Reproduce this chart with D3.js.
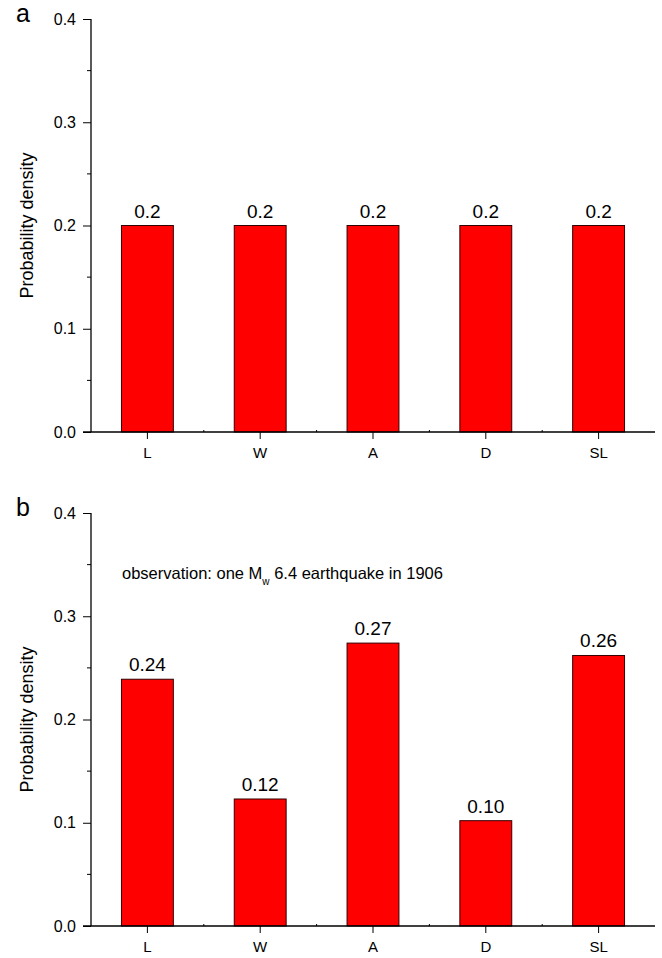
<!DOCTYPE html>
<html>
<head>
<meta charset="utf-8">
<script src="https://cdn.jsdelivr.net/npm/d3@7"></script>
<style>
  body { margin: 0; background: #fff; }
  text { font-family: Arial, "Liberation Sans", sans-serif; fill: #000; }
</style>
</head>
<body>
<svg id="chart" width="662" height="958"></svg>
<script>
const categories = ['L', 'W', 'A', 'D', 'SL'];
const priorValues = [0.2, 0.2, 0.2, 0.2, 0.2];
const posteriorValues = [0.239, 0.123, 0.274, 0.102, 0.262];
const yTicks = [0.0, 0.1, 0.2, 0.3, 0.4];

const svg = d3.select('#chart');

const x = d3.scaleBand()
  .domain(categories)
  .range([91, 655])
  .paddingInner(0.54)
  .paddingOuter(0.27);

function panel(top, letter, values, fmt, note) {
  const y = d3.scaleLinear().domain([0, 0.4]).range([top + 413, top]);
  const g = svg.append('g');

  // minor y ticks
  g.selectAll('.minor')
    .data(d3.range(0.05, 0.4, 0.1))
    .join('line')
    .attr('x1', 87).attr('x2', 91)
    .attr('y1', d => y(d)).attr('y2', d => y(d))
    .attr('stroke', '#000');

  const yAxis = g.append('g')
    .attr('transform', 'translate(91,0)')
    .call(d3.axisLeft(y).tickValues(yTicks).tickFormat(d3.format('.1f')).tickSize(8).tickPadding(7));
  yAxis.select('.domain').attr('d', `M0,${y(0.4)}V${y(0)}`).attr('stroke-width', 1.3);
  yAxis.selectAll('text').style('font-size', '16px').attr('font-family', null);

  // bars
  g.selectAll('.bar')
    .data(values)
    .join('rect')
    .attr('x', (d, i) => x(categories[i]))
    .attr('width', x.bandwidth())
    .attr('y', d => y(d))
    .attr('height', d => y(0) - y(d))
    .attr('fill', '#ff0000')
    .attr('stroke', '#330000')
    .attr('stroke-width', 1);

  g.selectAll('.val')
    .data(values)
    .join('text')
    .attr('x', (d, i) => x(categories[i]) + x.bandwidth() / 2)
    .attr('y', d => y(d) - 8)
    .attr('text-anchor', 'middle')
    .style('font-size', '19px')
    .text(d => fmt(d));

  // x axis
  const xAxis = g.append('g')
    .attr('transform', `translate(0,${y(0)})`)
    .call(d3.axisBottom(x).tickSize(7).tickPadding(8));
  xAxis.select('.domain').attr('d', 'M83,0H655').attr('stroke-width', 1.3);
  xAxis.selectAll('text').style('font-size', '15px').attr('font-family', null);

  // minor x ticks at band edges
  g.selectAll('.xminor')
    .data(categories.slice(1))
    .join('line')
    .attr('x1', d => x(d) - x.step() * x.paddingInner() / 2)
    .attr('x2', d => x(d) - x.step() * x.paddingInner() / 2)
    .attr('y1', y(0)).attr('y2', y(0) - 2)
    .attr('stroke', '#000');

  g.append('text')
    .attr('transform', `translate(33,${(y(0) + y(0.4)) / 2}) rotate(-90)`)
    .attr('text-anchor', 'middle')
    .style('font-size', '18px')
    .text('Probability density');

  g.append('text')
    .attr('x', 16).attr('y', top + 3)
    .style('font-size', '25px')
    .text(letter);

  if (note) {
    const t = g.append('text')
      .attr('x', 122).attr('y', top + 66)
      .style('font-size', '16.5px');
    t.append('tspan').text(note[0]);
    t.append('tspan').attr('dy', 6).style('font-size', '10px').text(note[1]);
    t.append('tspan').attr('dy', -6).text(note[2]);
  }
}

panel(19, 'a', priorValues, d3.format('.1f'));
panel(513, 'b', posteriorValues, d3.format('.2f'),
  ['observation: one M', 'w', ' 6.4 earthquake in 1906']);
</script>
</body>
</html>
